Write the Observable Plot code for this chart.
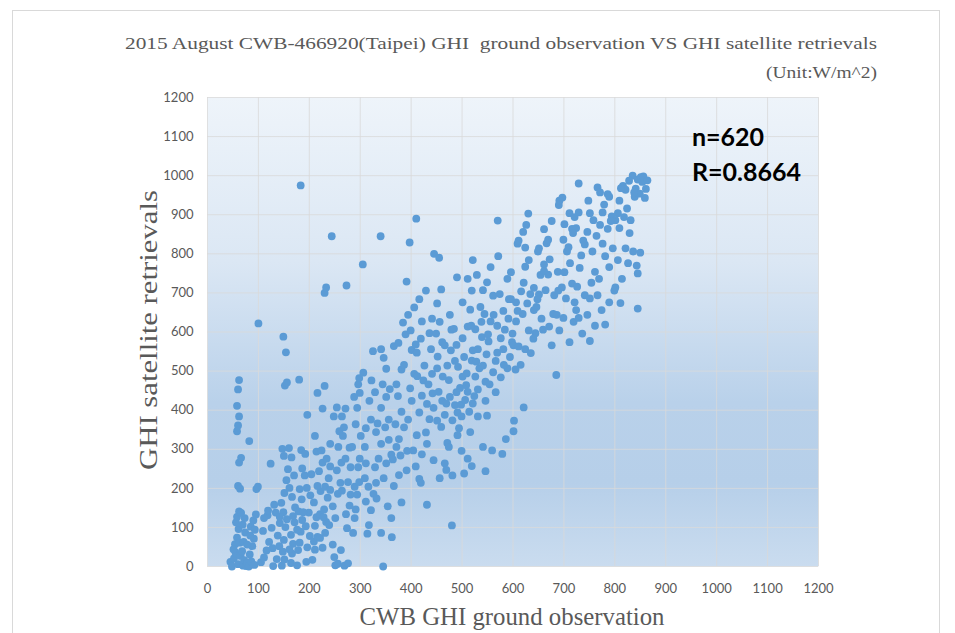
<!DOCTYPE html>
<html><head><meta charset="utf-8">
<script src="https://cdn.jsdelivr.net/npm/d3@7"></script>
<script src="https://cdn.jsdelivr.net/npm/@observablehq/plot@0.6"></script>
<style>
html,body{margin:0;padding:0;background:#fff;}
#wrap{position:relative;width:955px;height:633px;overflow:hidden;}
#border{position:absolute;left:12px;top:10px;width:928px;height:640px;border:1px solid #d9d9d9;box-sizing:border-box;}
#chart{position:absolute;left:0;top:0;}
</style></head><body><div id="wrap"><div id="border"></div><div id="chart"></div></div>
<script>
const titleText = "2015 August CWB-466920(Taipei) GHI  ground observation VS GHI satellite retrievals";
const unitText = "(Unit:W/m^2)";
const xLabel = "CWB GHI ground observation";
const yLabel = "GHI satellite retrievals";
const statN = "n=620";
const statR = "R=0.8664";
const ticks = [0,100,200,300,400,500,600,700,800,900,1000,1100,1200];

// [ground observation, satellite retrieval] pairs, grouped by ground-observation band
const band0 = [[45,12],[48,0],[52,21],[55,36],[54,57],[58,74],[61,96],[56,113],[58,127],[62,141],[60,6],[65,27],[51,44],[63,61],[60,206],[64,199],[62,266],[66,278],[58,346],[60,361],[62,384],[58,411],[60,453],[62,477],[70,2],[72,16],[68,39],[71,63],[74,87],[69,107],[73,124],[66,137],[76,1],[78,9],[81,0],[86,13],[83,31],[88,52],[91,71],[85,102],[90,118],[95,133],[82,321],[96,198],[99,204],[100,622],[92,4],[78,56],[84,79],[93,94]];
const band1 = [[105,11],[111,23],[116,41],[109,91],[121,63],[118,131],[126,99],[131,158],[124,263],[129,1],[136,19],[141,52],[138,79],[142,111],[134,138],[119,143],[111,124],[146,2],[151,18],[148,38],[150,68],[153,101],[156,121],[149,139],[145,163],[151,188],[155,221],[161,201],[158,249],[150,283],[147,301],[160,303],[152,463],[156,471],[154,548],[149,588],[164,9],[166,33],[168,58],[164,81],[171,113],[168,129],[172,151],[166,178],[170,233],[165,279],[176,3],[178,42],[181,61],[183,89],[186,119],[179,141],[185,172],[181,198],[191,233],[186,251],[184,298],[192,288],[180,478],[183,975],[196,388],[194,12],[196,49],[201,78],[193,103],[199,138],[202,182],[195,201],[142,127],[128,47],[161,44],[176,94],[188,139]];
const band2 = [[206,17],[211,43],[209,64],[216,76],[211,104],[214,126],[221,134],[209,164],[222,193],[216,206],[219,244],[226,266],[214,294],[224,297],[221,73],[226,48],[231,86],[233,114],[229,146],[236,176],[231,204],[238,226],[241,256],[234,276],[241,314],[230,462],[226,404],[216,444],[211,334],[230,700],[233,714],[244,845],[239,106],[246,154],[241,196],[251,3],[256,7],[249,24],[256,186],[261,214],[254,246],[263,266],[257,306],[266,334],[259,346],[264,384],[271,404],[268,356],[254,407],[273,719],[269,2],[276,8],[274,98],[272,134],[279,156],[281,184],[276,216],[281,254],[271,276],[279,304],[264,194],[286,86],[289,124],[291,146],[294,184],[289,204],[298,216],[296,254],[299,276],[301,334],[291,364],[294,406],[299,444],[296,466],[298,482],[284,306],[246,56],[262,42],[251,124],[204,236],[228,126],[248,384],[288,434]];
const band3 = [[306,496],[311,264],[309,226],[316,204],[311,166],[321,144],[317,106],[314,84],[309,306],[311,354],[321,376],[318,424],[305,773],[326,186],[331,214],[329,254],[336,276],[341,314],[331,344],[334,366],[341,406],[329,446],[325,551],[341,556],[346,534],[351,506],[344,466],[351,434],[356,376],[349,356],[356,324],[361,286],[351,264],[346,226],[341,86],[340,845],[345,0],[354,154],[361,124],[362,75],[366,206],[364,274],[371,306],[376,326],[369,364],[381,396],[374,436],[371,466],[381,504],[386,516],[389,594],[384,624],[391,729],[397,829],[379,284],[391,246],[386,356],[394,376],[401,424],[398,456],[401,554],[394,644],[399,604],[376,234],[366,564],[375,572],[381,164],[322,476],[358,454],[392,296],[332,174]];
const band4 = [[406,493],[411,547],[409,568],[406,663],[410,890],[416,684],[421,627],[419,583],[426,514],[424,476],[421,437],[416,394],[411,336],[404,297],[409,256],[416,224],[421,287],[431,314],[429,343],[436,377],[431,416],[434,466],[441,493],[439,556],[436,597],[441,634],[429,706],[431,158],[419,214],[445,800],[455,790],[459,709],[451,673],[456,626],[449,596],[461,574],[466,566],[471,514],[451,507],[454,447],[461,424],[444,406],[451,373],[466,388],[469,417],[476,434],[459,357],[471,316],[474,306],[466,264],[469,247],[481,233],[456,226],[444,272],[480,105],[481,374],[474,477],[479,606],[476,644],[486,413],[489,446],[496,457],[501,486],[491,394],[499,384],[489,567],[501,584],[491,336],[499,296],[494,354],[484,608],[490,740],[442,443],[462,486],[486,526],[498,414],[412,487],[452,537],[478,553],[492,511]];
const band5 = [[506,426],[511,447],[514,396],[504,536],[511,614],[516,657],[501,676],[521,553],[519,527],[509,494],[511,276],[519,257],[504,238],[516,344],[521,417],[511,736],[519,706],[526,486],[531,453],[534,507],[541,514],[546,473],[531,556],[539,587],[551,594],[556,627],[544,646],[536,664],[541,707],[549,727],[561,693],[524,436],[546,424],[554,466],[561,497],[531,384],[549,386],[541,306],[546,244],[559,297],[526,607],[570,885],[556,766],[529,746],[521,784],[566,526],[569,547],[576,584],[581,556],[584,606],[591,634],[569,616],[581,654],[574,697],[589,736],[596,753],[566,446],[576,484],[589,507],[594,536],[586,326],[579,288],[571,794],[548,543],[562,644],[528,524],[508,464],[582,516],[598,574],[538,626],[552,576],[592,684],[518,616]];
const band6 = [[601,566],[599,596],[596,684],[602,373],[601,346],[621,407],[611,563],[619,646],[606,627],[609,654],[616,704],[621,726],[624,767],[631,784],[620,856],[626,874],[630,903],[609,826],[606,676],[634,697],[641,713],[631,604],[624,556],[641,656],[611,834],[624,816],[646,664],[651,696],[654,746],[661,773],[666,827],[669,836],[651,814],[661,863],[676,884],[681,694],[669,747],[664,707],[656,634],[659,606],[676,566],[644,597],[679,646],[671,614],[649,806],[661,756],[686,644],[689,706],[696,714],[697,944],[690,925],[691,936],[685,490],[699,836],[615,516],[635,546],[648,684],[672,786],[688,754],[640,583],[605,504],[628,673]];
const band7 = [[701,753],[706,806],[709,817],[716,864],[701,876],[711,904],[704,686],[716,724],[721,676],[699,636],[691,604],[711,574],[719,626],[721,894],[729,980],[726,716],[731,764],[734,796],[741,824],[746,856],[751,904],[729,906],[724,866],[741,694],[751,686],[754,726],[761,754],[746,644],[729,636],[736,596],[761,616],[751,577],[724,656],[756,806],[766,970],[764,846],[771,874],[776,906],[779,926],[786,953],[789,946],[771,957],[781,794],[789,766],[796,814],[801,886],[766,694],[774,656],[781,619],[789,676],[801,714],[794,896],[786,864],[769,736],[712,776],[738,834],[758,886],[748,936],[776,826],[792,884],[718,853]];
const band8 = [[806,904],[809,936],[816,974],[821,964],[824,916],[831,886],[809,866],[821,814],[806,784],[814,736],[799,706],[811,674],[826,776],[835,1000],[841,967],[839,946],[829,853],[836,806],[845,990],[851,996],[854,984],[861,966],[859,943],[849,954],[845,750],[843,770],[850,803],[845,660],[856,998],[812,968],[828,987],[838,957],[818,894],[864,988]];

const points = [...band0,...band1,...band2,...band3,...band4,...band5,...band6,...band7,...band8]
  .map(([obs, sat]) => ({obs, sat}));

const textColor = "#595959";

const chart = Plot.plot({
  width: 955,
  height: 633,
  marginLeft: 207,
  marginRight: 137,
  marginTop: 97,
  marginBottom: 67,
  style: {fontFamily: "Lato, 'Open Sans', sans-serif", fontSize: "13px", color: textColor, background: "transparent"},
  x: {domain: [0, 1200]},
  y: {domain: [0, 1200]},
  marks: [
    Plot.frame({fill: "url(#plotBg)", stroke: "none"}),
    Plot.gridX(ticks, {stroke: "#d9d9d9", strokeOpacity: 0.8}),
    Plot.gridY(ticks, {stroke: "#d9d9d9", strokeOpacity: 0.8}),
    Plot.axisX(ticks, {tickSize: 0, tickPadding: 17, label: null, tickFormat: d => String(d)}),
    Plot.axisY(ticks, {tickSize: 0, tickPadding: 14, label: null, tickFormat: d => String(d)}),
    Plot.dot(points, {x: "obs", y: "sat", r: 3.9, fill: "#5b9bd5", stroke: "none"})
  ]
});
document.getElementById("chart").appendChild(chart);

const svg = d3.select(chart);
const grad = svg.insert("defs", ":first-child").append("linearGradient")
  .attr("id", "plotBg").attr("x1", 0).attr("y1", 0).attr("x2", 0).attr("y2", 1);
[[0, "#eef4fa"], [0.35, "#dbe7f4"], [0.65, "#b9d1ea"], [0.82, "#b6cfe9"], [1, "#cadcef"]]
  .forEach(([o, c]) => grad.append("stop").attr("offset", o).attr("stop-color", c));

const serif = "'Liberation Serif', 'DejaVu Serif', serif";
svg.append("text").attr("x", 125).attr("y", 49).attr("text-anchor", "start")
  .attr("textLength", 752).attr("lengthAdjust", "spacingAndGlyphs")
  .style("font-family", serif).style("font-size", "17px").attr("fill", textColor)
  .style("white-space", "pre").text(titleText);
svg.append("text").attr("x", 766).attr("y", 78).attr("text-anchor", "start")
  .attr("textLength", 111).attr("lengthAdjust", "spacingAndGlyphs")
  .style("font-family", serif).style("font-size", "17px").attr("fill", textColor)
  .text(unitText);
svg.append("text").attr("x", 512).attr("y", 625).attr("text-anchor", "middle")
  .attr("textLength", 305).attr("lengthAdjust", "spacingAndGlyphs")
  .style("font-family", serif).style("font-size", "26px").attr("fill", textColor)
  .text(xLabel);
svg.append("text").attr("transform", "translate(157,330) rotate(-90)").attr("text-anchor", "middle")
  .attr("textLength", 280).attr("lengthAdjust", "spacingAndGlyphs")
  .style("font-family", serif).style("font-size", "26px").attr("fill", textColor)
  .text(yLabel);
svg.append("text").attr("x", 692).attr("y", 146).attr("text-anchor", "start")
  .style("font-family", "Lato, sans-serif").style("font-weight", "bold").style("font-size", "25px").attr("fill", "#000")
  .text(statN);
svg.append("text").attr("x", 692).attr("y", 181).attr("text-anchor", "start")
  .style("font-family", "Lato, sans-serif").style("font-weight", "bold").style("font-size", "25px").attr("fill", "#000")
  .text(statR);
</script></body></html>
